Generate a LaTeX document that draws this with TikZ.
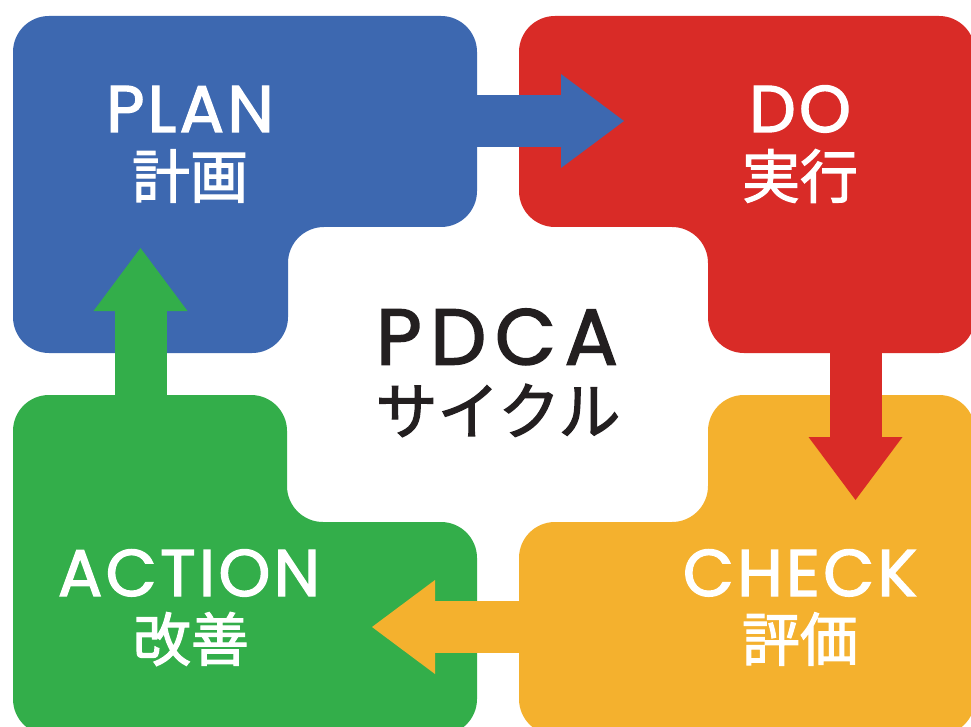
\documentclass[tikz,border=0pt]{standalone}
\usepackage{fontspec}
\setmainfont{Poppins}
\newfontfamily\enfont[LetterSpace=5, FakeBold=2]{Poppins}
\newfontfamily\bigfont[LetterSpace=11, FakeBold=2]{Poppins}
\newfontfamily\jpfont[FakeBold=2]{Noto Sans CJK JP}
\usetikzlibrary{arrows.meta}
\definecolor{planblue}{HTML}{3D68B0}
\definecolor{dored}{HTML}{D92B27}
\definecolor{checkyellow}{HTML}{F4B12E}
\definecolor{actgreen}{HTML}{33AE4A}
\definecolor{inkblack}{HTML}{231F20}
\begin{document}
\begin{tikzpicture}[
        x=1pt, y=-1pt,
        block/.style={rounded corners=36pt},
        flow/.style={line width=52pt, -{Triangle[length=63pt, width=94pt, line width=0pt]}},
        entext/.style={text=white, inner sep=0pt, text height=46pt, text depth=0pt,
            font=\enfont\fontsize{66}{66}\selectfont},
        jptext/.style={text=white, inner sep=0pt, text height=46pt, text depth=4pt,
            font=\jpfont\fontsize{58}{58}\selectfont},
        midtext/.style={text=inkblack, inner sep=0pt},
    ]
    \clip (0,0) rectangle (971,727);
    \fill[white] (0,0) rectangle (971,727);

    % the four blocks
    \fill[planblue, block] (13,16) -- (477,16) -- (477,227) -- (288,227) -- (288,353) -- (13,353) -- cycle;
    \fill[dored, block] (519,16) -- (975,16) -- (975,353) -- (708,353) -- (708,227) -- (519,227) -- cycle;
    \fill[actgreen, block] (13,395) -- (287,395) -- (287,522) -- (477,522) -- (477,735) -- (13,735) -- cycle;
    \fill[checkyellow, block] (708,395) -- (975,395) -- (975,735) -- (519,735) -- (519,522) -- (708,522) -- cycle;

    % arrow ends
    \coordinate (plan-out) at (440,121);
    \coordinate (do-in) at (624,121);
    \coordinate (do-out) at (855.5,320);
    \coordinate (check-in) at (855.5,500);
    \coordinate (check-out) at (560,627);
    \coordinate (act-in) at (372,627);
    \coordinate (act-out) at (140.5,430);
    \coordinate (plan-in) at (140.5,248);

    \draw[flow, planblue] (plan-out) -- (do-in);
    \draw[flow, dored] (do-out) -- (check-in);
    \draw[flow, checkyellow] (check-out) -- (act-in);
    \draw[flow, actgreen] (act-out) -- (plan-in);

    % labels
    \node[entext] (plan) at (190,109) {PLAN};
    \node[jptext] (plan-jp) at (190,177) {計画};
    \node[entext] (do) at (800,109) {DO};
    \node[jptext] (do-jp) at (800,177) {実行};
    \node[entext] (act) at (189,573) {ACTION};
    \node[jptext] (act-jp) at (191,640) {改善};
    \node[entext] (check) at (800,573) {CHECK};
    \node[jptext] (check-jp) at (800,640) {評価};

    \node[midtext, text height=55pt, text depth=0pt,
        font=\bigfont\fontsize{79}{79}\selectfont] (pdca) at (497,337) {PDCA};
    \node[midtext, text height=50pt, text depth=4pt,
        font=\jpfont\fontsize{62}{62}\selectfont] (cycle) at (498,411) {サイクル};
\end{tikzpicture}
\end{document}
